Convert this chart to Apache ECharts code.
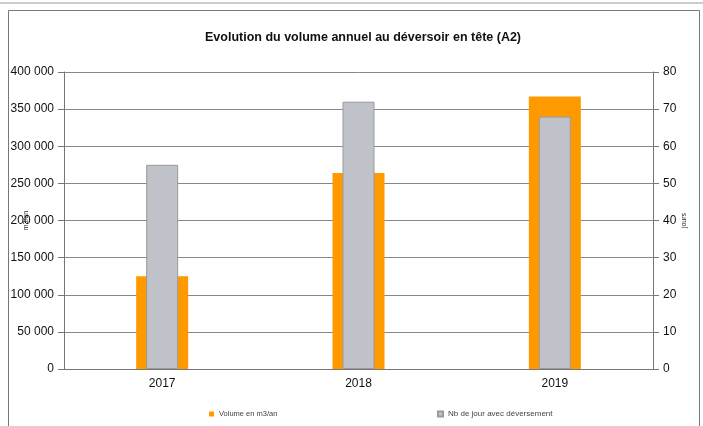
<!DOCTYPE html>
<html><head><meta charset="utf-8">
<script src="https://cdn.jsdelivr.net/npm/echarts@6/dist/echarts.min.js"></script>
<style>html,body{margin:0;padding:0;background:#fff}#c{width:703px;height:426px}</style>
</head><body><div id="c"></div>
<script>
const categories = ['2017', '2018', '2019'];
const volume = [125000, 264000, 367000];
const jours = [55, 72, 68];
const titleText = 'Evolution du volume annuel au déversoir en tête (A2)';
const volumeName = 'Volume en m3/an';
const joursName = 'Nb de jour avec déversement';

const chart = echarts.init(document.getElementById('c'), null, {renderer: 'canvas'});
const fmt = v => String(v).replace(/\B(?=(\d{3})+(?!\d))/g, ' ');
const FF = 'Liberation Sans, Arial, sans-serif';
const lab = {color: '#111', fontSize: 12, fontFamily: FF};
chart.setOption({
  animation: false,
  backgroundColor: '#fff',
  title: {text: titleText, left: 200, top: 26,
    textStyle: {fontSize: 12.5, fontWeight: 'bold', color: '#111', fontFamily: FF}},
  graphic: [
    {type: 'line', shape: {x1: 0, y1: 3, x2: 703, y2: 3}, style: {stroke: '#999', lineWidth: 1}},
    {type: 'rect', shape: {x: 8.5, y: 10.5, width: 691, height: 430}, style: {fill: 'none', stroke: '#777', lineWidth: 1}}
  ],
  grid: {left: 64, right: 50, top: 72, bottom: 57, containLabel: false, outerBoundsMode: 'none'},
  legend: [
    {data: [volumeName], left: 204, top: 405, itemWidth: 5, itemHeight: 5, itemGap: 3, icon: 'rect',
      textStyle: {fontSize: 7.5, color: '#444', fontFamily: FF}},
    {data: [joursName], left: 432, top: 405, itemWidth: 5, itemHeight: 5, itemGap: 3, icon: 'rect',
      textStyle: {fontSize: 8, color: '#444', fontFamily: FF}}
  ],
  xAxis: [
    {type: 'category', data: categories,
      axisLine: {lineStyle: {color: '#777'}}, axisTick: {show: false},
      axisLabel: Object.assign({margin: 9}, lab)},
    {type: 'category', data: categories, show: false}
  ],
  yAxis: [
    {type: 'value', min: 0, max: 400000, interval: 50000, position: 'left',
      name: 'm3/an', nameLocation: 'middle', nameGap: 34, nameRotate: 90, nameMoveOverlap: false,
      nameTextStyle: {fontSize: 7, color: '#222', fontFamily: FF},
      axisLine: {show: true, lineStyle: {color: '#777'}},
      axisTick: {show: true, length: 6, lineStyle: {color: '#777'}},
      axisLabel: Object.assign({margin: 10, formatter: fmt}, lab),
      splitLine: {lineStyle: {color: '#888', width: 1}}},
    {type: 'value', min: 0, max: 80, interval: 10, position: 'right',
      name: 'jours', nameLocation: 'middle', nameGap: 28, nameRotate: 90, nameMoveOverlap: false,
      nameTextStyle: {fontSize: 7, color: '#222', fontFamily: FF},
      axisLine: {show: true, lineStyle: {color: '#777'}},
      axisTick: {show: true, length: 6, lineStyle: {color: '#777'}},
      axisLabel: Object.assign({margin: 10}, lab),
      splitLine: {show: false}}
  ],
  series: [
    {name: volumeName, type: 'bar', xAxisIndex: 0, yAxisIndex: 0, data: volume, barWidth: 52,
      itemStyle: {color: '#FF9900'}},
    {name: joursName, type: 'bar', xAxisIndex: 1, yAxisIndex: 1, data: jours, barWidth: 32,
      itemStyle: {color: '#C0C2CA', borderColor: '#9A9A9A', borderWidth: 1}}
  ]
});
</script></body></html>
